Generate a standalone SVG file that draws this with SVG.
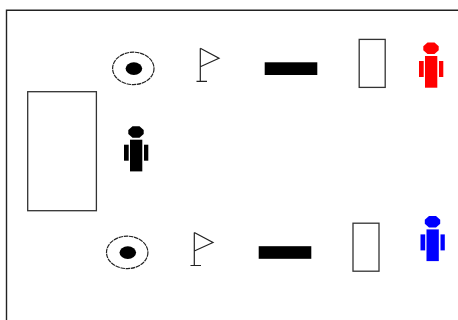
<svg xmlns="http://www.w3.org/2000/svg" width="458" height="320" viewBox="0 0 458 320">
<style>
.o{fill:#fff;stroke:#333;stroke-width:1.300}
.t{fill:#fff;stroke:#222;stroke-width:1.200;stroke-dasharray:4.500 0.700}
.f{fill:none;stroke:#222;stroke-width:1.200}
.k{fill:#000}
</style>
<defs>
<g id="person"><path d="M-3.500 -5.800H3.500L7.700 -2V2L3.500 5.800H-3.500L-7.700 2V-2Z"/><rect x="-6" y="7.700" width="12.300" height="31.700"/><rect x="-12" y="12.700" width="4.700" height="16"/><rect x="8" y="12.700" width="4.300" height="16"/></g>
<g id="target"><ellipse class="t" cx="0" cy="0" rx="20.700" ry="16.200"/><ellipse class="k" cx="0.600" cy="0.200" rx="8.300" ry="6.300"/></g>
<path id="flag" class="f" d="M0.300 0V33M-3.500 33H7M0.300 0L19 10L0.300 18.500"/>
</defs>
<rect width="458" height="320" fill="#fff"/>
<g id="connectors"/>
<g id="frame"><path d="M6.500 320V10.300H458" fill="none" stroke="#222" stroke-width="1.400"/></g>
<g id="box-main"><rect class="o" x="27.700" y="91.700" width="68.700" height="119"/></g>
<g id="target-top"><use href="#target" x="133.300" y="68.400"/></g>
<g id="flag-top"><use href="#flag" x="200" y="48.300"/></g>
<g id="bar-top"><rect class="k" x="264.700" y="62.300" width="52.600" height="12.700"/></g>
<g id="door-top"><rect class="o" x="359.200" y="39.400" width="26" height="48"/></g>
<g id="person-red" fill="#f00"><use href="#person" x="431" y="48.300"/></g>
<g id="person-black" fill="#000"><use href="#person" x="136" y="132"/></g>
<g id="target-bottom"><use href="#target" x="127.200" y="252.400"/></g>
<g id="flag-bottom"><use href="#flag" x="194" y="232.500"/></g>
<g id="bar-bottom"><rect class="k" x="258.700" y="246.200" width="52.600" height="12.600"/></g>
<g id="door-bottom"><rect class="o" x="353" y="223.200" width="26" height="48"/></g>
<g id="person-blue" fill="#00f"><use href="#person" x="432.500" y="221.700"/></g>
</svg>
